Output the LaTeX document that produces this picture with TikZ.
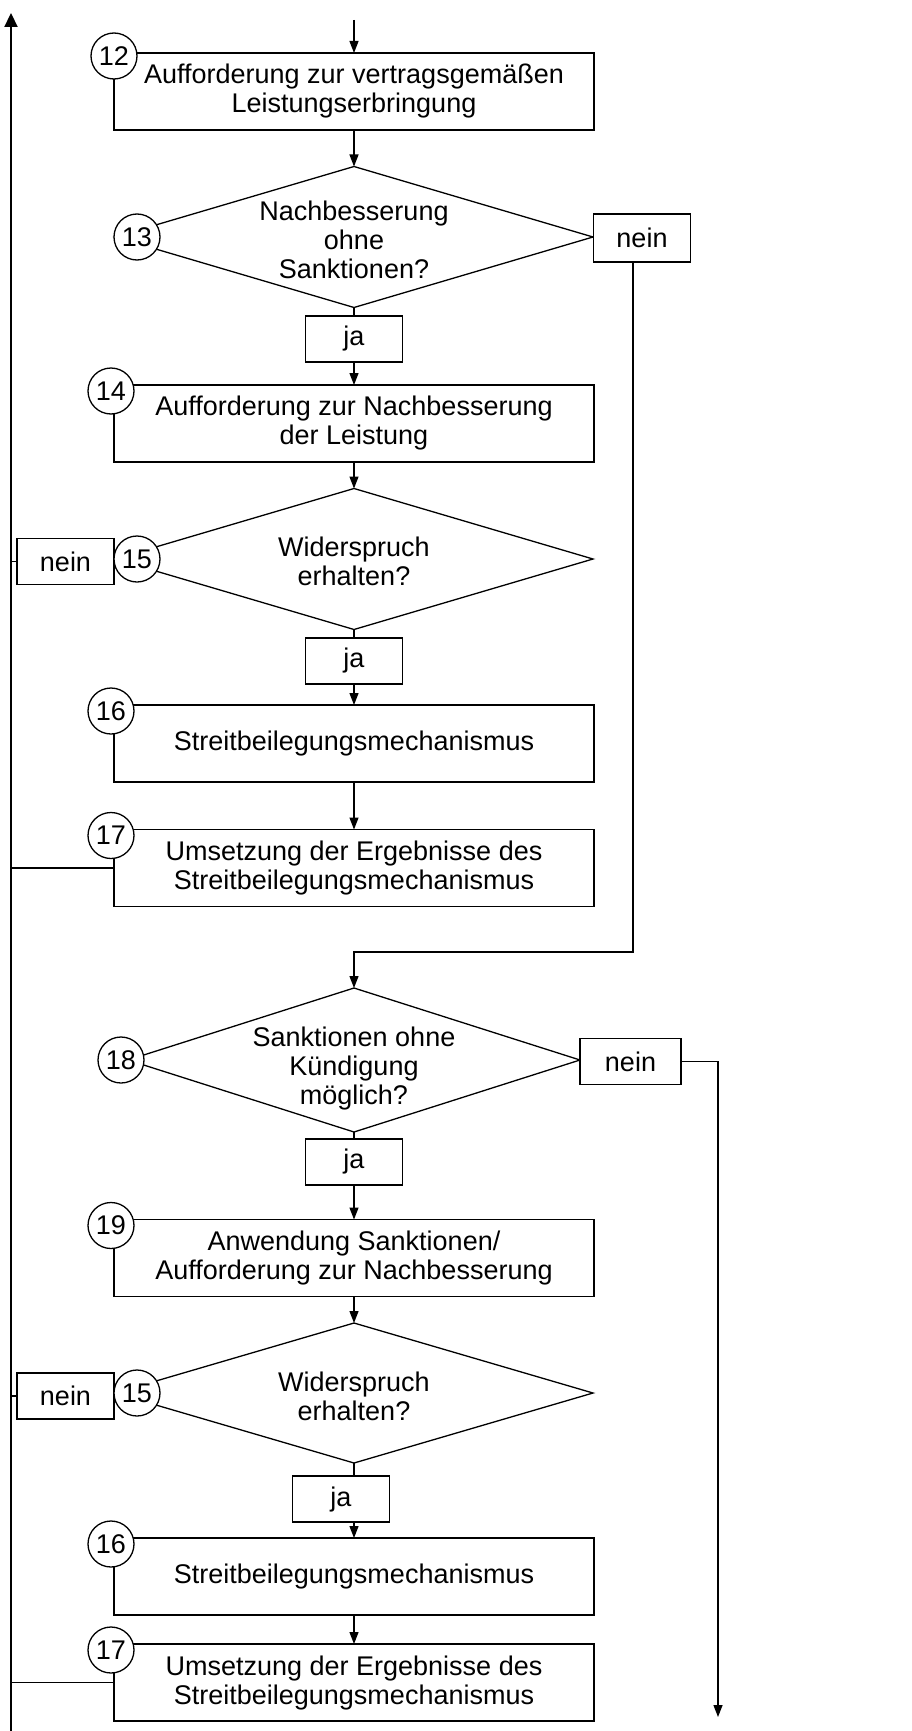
\documentclass[tikz,border=0pt]{standalone}
\usepackage{fontspec}
\setmainfont{Liberation Sans}
\usetikzlibrary{arrows.meta,shapes.geometric}
\tikzset{
  flow diagram/.style={
    line width=1.3pt, x=1pt, y=-1pt,
    >={Triangle[length=12pt,width=9pt]},
    every node/.style={font=\fontsize{27}{29}\selectfont,
      text=black, inner sep=0pt, outer sep=0pt}
  },
  flow box/.style={draw, fill=white, minimum width=480pt,
    minimum height=77pt, align=center},
  flow decision/.style={draw, diamond, minimum width=478pt, minimum height=141pt},
  flow answer/.style={draw, fill=white, minimum width=97pt, minimum height=46pt},
  flow step/.style={draw, circle, fill=white, minimum size=46pt},
  flow label/.style={align=center},
  flow loop/.style={line width=2.2pt, -{Triangle[length=14pt,width=13pt]}}
}

\begin{document}
\begin{tikzpicture}[flow diagram]
    \useasboundingbox (0,0) rectangle (912,1731);
    \coordinate (entry) at (354,20);
    \coordinate (loop top) at (11,13);
    \coordinate (loop bottom) at (11,1731);
    \coordinate (bend) at (354,952);
    \coordinate (exit) at (718,1717);
    % first round
    \node[flow box] (b12) at (354,91.5)
      {Aufforderung zur vertragsgemäßen\\Leistungserbringung};
    \node[flow decision] (d13) at (354,237) {};
    \node[flow label] (t13) at (354,240) {Nachbesserung\\ohne\\Sanktionen?};
    \node[flow answer, minimum height=48pt] (n13) at (642,238) {nein};
    \node[flow answer] (j13) at (354,339) {ja};
    \node[flow box] (b14) at (354,423.5)
      {Aufforderung zur Nachbesserung\\der Leistung};
    \node[flow decision] (d15) at (354,559) {};
    \node[flow label] (t15) at (354,561) {Widerspruch\\erhalten?};
    \node[flow answer] (n15) at (65.5,561.5) {nein};
    \node[flow answer] (j15) at (354,661) {ja};
    \node[flow box] (b16) at (354,743.5) {Streitbeilegungsmechanismus};
    \node[flow box] (b17) at (354,868)
      {Umsetzung der Ergebnisse des\\Streitbeilegungsmechanismus};
    % second round
    \node[flow decision, minimum width=452pt, minimum height=144pt] (d18) at (354,1060) {};
    \node[flow label] (t18) at (354,1069) {Sanktionen ohne\\Kündigung\\möglich?};
    \node[flow answer, minimum width=101pt] (n18) at (630.5,1061.5) {nein};
    \node[flow answer] (j18) at (354,1162) {ja};
    \node[flow box] (b19) at (354,1258)
      {Anwendung Sanktionen/\\Aufforderung zur Nachbesserung};
    \node[flow decision, minimum height=140pt] (d15b) at (354,1393) {};
    \node[flow label] (t15b) at (354,1396) {Widerspruch\\erhalten?};
    \node[flow answer] (n15b) at (65.5,1396) {nein};
    \node[flow answer] (j15b) at (341,1499) {ja};
    \node[flow box] (b16b) at (354,1576.5) {Streitbeilegungsmechanismus};
    \node[flow box] (b17b) at (354,1682.5)
      {Umsetzung der Ergebnisse des\\Streitbeilegungsmechanismus};
    % step numbers
    \node[flow step] (s12) at ([shift={(0,3)}]b12.north west) {12};
    \node[flow step] (s13) at ([xshift=22pt]d13.west) {13};
    \node[flow step] (s14) at ([shift={(-3,6)}]b14.north west) {14};
    \node[flow step] (s15) at ([xshift=22pt]d15.west) {15};
    \node[flow step] (s16) at ([shift={(-3,6)}]b16.north west) {16};
    \node[flow step] (s17) at ([shift={(-3,6)}]b17.north west) {17};
    \node[flow step] (s18) at ([xshift=-7pt]d18.west) {18};
    \node[flow step] (s19) at ([shift={(-3,6)}]b19.north west) {19};
    \node[flow step] (s15b) at ([xshift=22pt]d15b.west) {15};
    \node[flow step] (s16b) at ([shift={(-3,6)}]b16b.north west) {16};
    \node[flow step] (s17b) at ([shift={(-3,6)}]b17b.north west) {17};
    % connectors
    \draw[->] (entry) -- (b12.north);
    \draw[->] (b12.south) -- (d13.north);
    \draw (d13.south) -- (j13.north);
    \draw[->] (j13.south) -- (b14.north);
    \draw[->] (b14.south) -- (d15.north);
    \draw (d15.south) -- (j15.north);
    \draw[->] (j15.south) -- (b16.north);
    \draw[->] (b16.south) -- (b17.north);
    \draw[->] ([xshift=-9pt]n13.south) |- (bend) -- (d18.north);
    \draw (d18.south) -- (j18.north);
    \draw[->] (j18.south) -- (b19.north);
    \draw[->] (b19.south) -- (d15b.north);
    \draw (d15b.south) -- (d15b.south |- j15b.north);
    \draw[->] (d15b.south |- j15b.south) -- (b16b.north);
    \draw[->] (b16b.south) -- (b17b.north);
    \draw[->] (n18.east) -| (exit);
    % way back to the start
    \draw[flow loop] (loop bottom) -- (loop top);
    \draw (n15.west) -- (n15.west -| loop top);
    \draw (b17.west) -- (b17.west -| loop top);
    \draw (n15b.west) -- (n15b.west -| loop top);
    \draw (b17b.west) -- (b17b.west -| loop top);
\end{tikzpicture}
\end{document}
